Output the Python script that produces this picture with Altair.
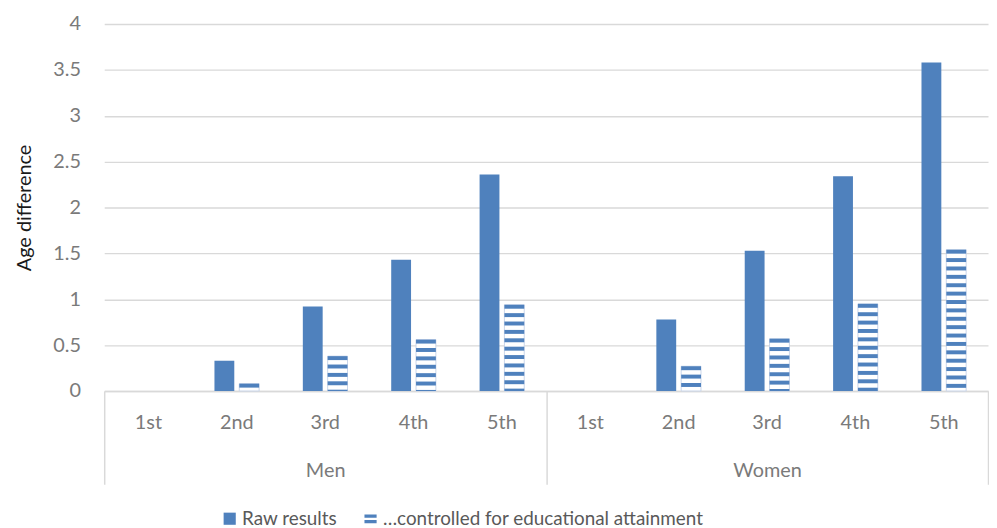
import altair as alt
import pandas as pd

groups = ["Men", "Women"]
quintiles = ["1st", "2nd", "3rd", "4th", "5th"]
raw_men = [0, 0.33, 0.92, 1.43, 2.36]
ctrl_men = [0, 0.08, 0.38, 0.56, 0.94]
raw_women = [0, 0.78, 1.53, 2.34, 3.58]
ctrl_women = [0, 0.27, 0.57, 0.95, 1.54]
series = ["Raw results", "\u2026controlled for educational attainment"]

BLUE = "#4f81bd"
GRID = "#d9d9d9"
FONT = "Lato"

rows = []
for g, raws, ctrls in [("Men", raw_men, ctrl_men), ("Women", raw_women, ctrl_women)]:
    for q, r, c in zip(quintiles, raws, ctrls):
        rows.append({"group": g, "cat": f"{g} {q}", "series": series[0], "value": r})
        rows.append({"group": g, "cat": f"{g} {q}", "series": series[1], "value": c})
df = pd.DataFrame(rows)
cats = list(dict.fromkeys(df["cat"]))

x_cat = alt.X(
    "cat:N",
    sort=cats,
    scale=alt.Scale(paddingInner=0, paddingOuter=0),
    axis=alt.Axis(
        title=None, labelExpr="split(datum.label, ' ')[1]", labelAngle=0,
        ticks=False, domainColor=GRID, domainWidth=1.5, labelPadding=22,
        labelFont=FONT, labelFontSize=20, labelColor="#7a7a7a", grid=False,
    ),
)
x_off = alt.XOffset("series:N", sort=series,
                    scale=alt.Scale(domain=series, paddingInner=0.2, paddingOuter=0.88))
y_val = alt.Y(
    "value:Q",
    scale=alt.Scale(domain=[0, 4]),
    axis=alt.Axis(
        title="Age difference", values=[0, 0.5, 1, 1.5, 2, 2.5, 3, 3.5, 4], format="~g",
        ticks=False, domain=False, gridColor=GRID, gridWidth=1.3,
        labelFont=FONT, labelFontSize=20, labelColor="#7a7a7a", labelPadding=24,
        titleFont=FONT, titleFontSize=20, titleFontWeight="normal", titleColor="#1a1a1a",
        titlePadding=18,
    ),
)

base = alt.Chart(df)
raw_bars = base.transform_filter(f"datum.series == '{series[0]}'").mark_bar(
    color=BLUE, width=20
).encode(x=x_cat, xOffset=x_off, y=y_val)

ctrl_bg = base.transform_filter(f"datum.series == '{series[1]}' && datum.value > 0").mark_bar(
    fill="white", stroke="#c9d6ea", strokeWidth=1, width=20
).encode(x=x_cat, xOffset=x_off, y=y_val)

# horizontal stripe pattern, built from the bar value
stripes = base.transform_filter(f"datum.series == '{series[1]}'").transform_calculate(
    s="sequence(0, datum.value, 0.0914)"
).transform_flatten(["s"]).transform_calculate(
    top="datum.value - datum.s",
    bot="max(datum.value - datum.s - 0.043, 0)",
).mark_bar(color=BLUE, width=20).encode(
    x=x_cat, xOffset=x_off, y=alt.Y("top:Q"), y2="bot:Q"
)

legend_layer = alt.Chart(pd.DataFrame({"series": series})).mark_point(
    filled=True, opacity=0
).encode(
    color=alt.Color("series:N", sort=series,
                    scale=alt.Scale(domain=series, range=[BLUE, BLUE]),
                    legend=alt.Legend(
                        title=None, orient="none", direction="horizontal",
                        legendX=117, legendY=489, symbolOpacity=1, symbolSize=150,
                        symbolStrokeWidth=0, labelFont=FONT, labelFontSize=19,
                        labelColor="#595959", columnPadding=24, labelOffset=3,
                        labelLimit=500,
                    )),
    shape=alt.Shape("series:N", sort=series,
                    scale=alt.Scale(domain=series, range=[
                        "square",
                        "M-1,-0.7H1V-0.15H-1Z M-1,0.2H1V0.75H-1Z",
                    ]),
                    legend=None),
)

bars = alt.layer(ctrl_bg, stripes, raw_bars, legend_layer)

group_axis = alt.Chart(pd.DataFrame({"group": groups})).mark_rule(opacity=0).encode(
    x=alt.X("group:N", sort=groups, scale=alt.Scale(paddingInner=0, paddingOuter=0),
            axis=alt.Axis(
                title=None, orient="bottom", labelAngle=0, domain=False, grid=False,
                tickBand="extent", tickSize=94, tickColor=GRID, tickWidth=1.5,
                labelPadding=-24, labelFont=FONT, labelFontSize=20, labelColor="#7a7a7a",
            )),
)

chart = alt.layer(bars, group_axis).resolve_scale(x="independent").properties(
    width=891, height=370,
    padding={"left": 7, "top": 4, "right": 0, "bottom": 0},
).configure_view(stroke=None)

chart.save("out.html", embed_options={"renderer": "svg", "actions": False})
